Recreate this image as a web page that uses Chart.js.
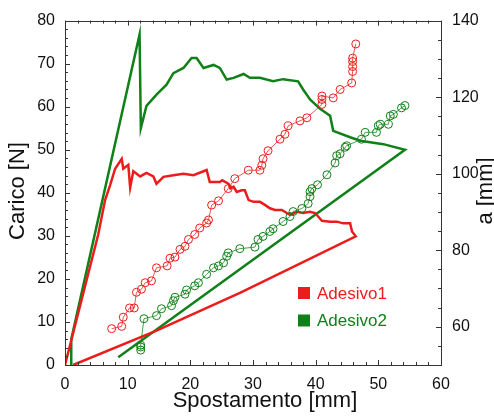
<!DOCTYPE html>
<html>
<head>
<meta charset="utf-8">
<script src="https://cdn.jsdelivr.net/npm/chart.js@4/dist/chart.umd.min.js"></script>
<style>
  html, body { margin: 0; padding: 0; background: #fff; }
  canvas { display: block; }
</style>
</head>
<body>
<canvas id="chart" width="494" height="416"></canvas>
<script>
// series names (legend)
const seriesNames = ['Adesivo1', 'Adesivo2'];

// axis labels
const xTitle = 'Spostamento [mm]';
const yTitle = 'Carico [N]';
const y2Title = 'a [mm]';

// tick labels
const xTicks = [0, 10, 20, 30, 40, 50, 60];
const yTicks = [0, 10, 20, 30, 40, 50, 60, 70, 80];
const aTicks = [60, 80, 100, 120, 140];

// Adesivo1 - carico [N] vs spostamento [mm]
const carico1X = [0, 5.3, 6.4, 7.2, 8.0, 9.05, 9.3, 10.1, 10.4, 10.9, 12.0, 13.0, 14.1, 14.6, 15.7, 17.3, 18.9, 20.5, 22.6,
  23.1, 24.7, 25.1, 26.1, 26.4, 26.9, 27.4, 28.2, 28.7, 29.3, 30.1, 31.1, 31.9, 32.7, 33.5, 34.6, 35.4, 35.9, 37.0,
  38.0, 39.1, 39.9, 40.4, 41.0, 42.3, 43.4, 44.4, 45.5, 45.8, 46.4, 37.0, 28.0, 14.6, 1.3];
const carico1Y = [0, 30.3, 38.3, 41.8, 45.6, 47.9, 45.6, 46.5, 41.2, 45.0, 43.8, 44.6, 43.8, 42.1, 43.7, 44.1, 44.4, 44.1, 45.3,
  42.5, 42.5, 42.9, 42.1, 41.0, 41.4, 40.2, 40.6, 40.6, 38.3, 37.9, 37.9, 37.2, 36.4, 36.0, 36.0, 35.3, 34.9, 35.6,
  35.3, 35.6, 35.3, 34.5, 33.5, 33.3, 33.3, 32.9, 32.9, 31.0, 29.9, 23.2, 16.8, 8.0, 0];

// Adesivo2 - carico [N] vs spostamento [mm]
const carico2X = [1.0, 1.0, 11.9, 12.1, 13.0, 14.6, 16.2, 17.3, 18.9, 20.2, 21.0, 22.1, 23.7, 24.7, 25.8, 26.9, 28.5, 29.5,
  31.1, 33.2, 34.8, 37.2, 38.0, 39.1, 40.7, 42.3, 42.8, 45.5, 47.1, 50.8, 54.25, 8.5];
const carico2Y = [0, 6.0, 76.8, 55.0, 60.2, 62.8, 65.1, 67.8, 69.0, 71.3, 71.3, 69.0, 69.7, 69.0, 66.3, 66.7, 67.6, 66.7,
  66.7, 65.9, 66.4, 65.9, 64.0, 61.7, 59.5, 57.9, 54.4, 52.9, 52.1, 51.3, 50.0, 1.8];

// Adesivo1 - lunghezza cricca a [mm]
const crack1X = [7.45, 9.05, 9.3, 10.3, 11.05, 11.4, 12.2, 12.8, 13.8, 14.6, 16.3, 16.75, 17.55, 18.35, 19.15, 19.7, 20.7,
  21.5, 22.6, 22.9, 23.4, 24.5, 26.05, 27.1, 29.25, 31.1, 31.4, 31.6, 32.4, 34.3, 35.1, 35.6, 37.5, 38.6, 41.0, 41.0,
  41.0, 42.8, 43.9, 45.75, 45.9, 45.9, 45.9, 45.9, 46.4];
const crack1A = [59.5, 60.1, 62.5, 64.9, 64.9, 69.0, 69.8, 71.5, 72.0, 75.4, 75.9, 77.9, 78.2, 80.2, 81.0, 82.8, 84.1,
  85.8, 87.1, 87.9, 91.8, 92.9, 96.1, 98.7, 100.9, 100.9, 102.2, 103.9, 106.0, 109.0, 110.3, 112.5, 113.8, 114.6, 118.1, 119.4,
  120.3, 119.8, 122.0, 123.7, 126.7, 128.0, 129.3, 130.2, 133.9];

// Adesivo2 - lunghezza cricca a [mm]
const crack2X = [12.08, 12.08, 12.08, 12.6, 14.6, 15.4, 17.0, 17.3, 17.55, 19.15, 19.4, 20.7, 21.3, 22.6, 23.7, 24.5, 25.3,
  25.8, 26.05, 27.9, 30.3, 30.8, 31.6, 32.7, 33.2, 34.8, 35.9, 36.4, 37.8, 38.8, 39.1, 39.1, 39.4, 40.3, 41.8, 43.1,
  43.35, 43.9, 44.7, 44.95, 47.3, 47.9, 49.7, 50.0, 50.3, 51.6, 51.9, 52.4, 53.7, 54.25];
const crack2A = [53.9, 54.7, 55.2, 62.1, 62.9, 64.7, 65.5, 66.8, 67.7, 68.5, 69.6, 70.7, 71.5, 73.7, 75.4, 75.9, 76.7,
  78.4, 79.3, 80.4, 80.8, 82.8, 83.6, 84.9, 85.6, 87.5, 88.8, 90.1, 90.9, 92.2, 94.0, 95.3, 96.1, 97.1, 99.7, 102.8,
  104.7, 105.2, 106.9, 107.3, 109.0, 110.8, 110.8, 112.5, 112.9, 112.9, 115.1, 115.5, 117.2, 117.8];

const RED = 'rgb(236,28,28)';
const GREEN = 'rgb(16,128,24)';
const FONT = '"Liberation Sans", Arial, sans-serif';

const pts = (xs, ys) => xs.map((x, i) => ({ x: x, y: ys[i] }));

// frame, inward ticks, axis titles and legend
const decor = {
  id: 'decor',
  afterDraw(chart) {
    const ctx = chart.ctx;
    const a = chart.chartArea;
    const sx = chart.scales.x, sy = chart.scales.y, sa = chart.scales.y2;
    ctx.save();
    ctx.strokeStyle = '#333';
    ctx.lineWidth = 1;
    ctx.strokeRect(Math.round(a.left) + 0.5, Math.round(a.top) + 0.5,
      Math.round(a.right - a.left), Math.round(a.bottom - a.top));
    ctx.beginPath();
    for (let v = 0; v <= 60; v += 2) {
      const len = v % 10 === 0 ? 5 : 3;
      const px = Math.round(sx.getPixelForValue(v)) + 0.5;
      ctx.moveTo(px, a.bottom); ctx.lineTo(px, a.bottom - len);
      ctx.moveTo(px, a.top); ctx.lineTo(px, a.top + len);
    }
    for (let v = 0; v <= 80; v += 2) {
      const len = v % 10 === 0 ? 5 : 3;
      const py = Math.round(sy.getPixelForValue(v)) + 0.5;
      ctx.moveTo(a.left, py); ctx.lineTo(a.left + len, py);
    }
    for (let v = 50; v <= 140; v += 5) {
      const len = v % 20 === 0 ? 5 : 3;
      const py = Math.round(sa.getPixelForValue(v)) + 0.5;
      ctx.moveTo(a.right, py); ctx.lineTo(a.right - len, py);
    }
    ctx.stroke();

    // axis titles
    ctx.fillStyle = '#111';
    ctx.font = '22px ' + FONT;
    ctx.textAlign = 'center';
    ctx.textBaseline = 'middle';
    ctx.fillText(xTitle, 265, 401);
    ctx.save();
    ctx.translate(18, 191);
    ctx.rotate(-Math.PI / 2);
    ctx.fillText(yTitle, 0, 0);
    ctx.restore();
    ctx.save();
    ctx.translate(486, 191);
    ctx.rotate(-Math.PI / 2);
    ctx.fillText(y2Title, 0, 0);
    ctx.restore();

    // legend
    const cols = [RED, GREEN];
    ctx.font = '17px ' + FONT;
    ctx.textAlign = 'left';
    seriesNames.forEach((name, i) => {
      const cy = 293 + i * 27.5;
      ctx.fillStyle = cols[i];
      ctx.fillRect(298, cy - 6, 12, 12);
      ctx.fillText(name, 317, cy + 1);
    });
    ctx.restore();
  }
};

new Chart(document.getElementById('chart'), {
  type: 'scatter',
  data: {
    datasets: [
      {
        label: seriesNames[0] + ' a',
        data: pts(crack1X, crack1A),
        yAxisID: 'y2',
        showLine: true,
        borderColor: 'rgba(236,28,28,0.75)',
        borderWidth: 1,
        pointRadius: 4,
        pointBorderWidth: 1,
        pointBorderColor: RED,
        pointBackgroundColor: 'rgba(0,0,0,0)'
      },
      {
        label: seriesNames[1] + ' a',
        data: pts(crack2X, crack2A),
        yAxisID: 'y2',
        showLine: true,
        borderColor: 'rgba(16,128,24,0.75)',
        borderWidth: 1,
        pointRadius: 4,
        pointBorderWidth: 1,
        pointBorderColor: GREEN,
        pointBackgroundColor: 'rgba(0,0,0,0)'
      },
      {
        label: seriesNames[0],
        data: pts(carico1X, carico1Y),
        yAxisID: 'y',
        showLine: true,
        borderColor: RED,
        borderWidth: 2.5,
        pointRadius: 0,
        tension: 0
      },
      {
        label: seriesNames[1],
        data: pts(carico2X, carico2Y),
        yAxisID: 'y',
        showLine: true,
        borderColor: GREEN,
        borderWidth: 2.5,
        pointRadius: 0,
        tension: 0
      }
    ]
  },
  options: {
    responsive: false,
    animation: false,
    devicePixelRatio: 1,
    layout: { padding: { top: 17, left: 0, right: 0, bottom: 0 } },
    plugins: {
      legend: { display: false },
      tooltip: { enabled: false }
    },
    scales: {
      x: {
        type: 'linear',
        min: 0, max: 60,
        afterBuildTicks: s => { s.ticks = xTicks.map(v => ({ value: v })); },
        afterFit: s => { s.height = 51; },
        grid: { display: false, drawTicks: false },
        border: { display: false },
        ticks: { color: '#111', font: { family: FONT, size: 16 }, padding: 10, maxRotation: 0 }
      },
      y: {
        type: 'linear',
        position: 'left',
        min: 0, max: 80,
        afterBuildTicks: s => { s.ticks = yTicks.map(v => ({ value: v })); },
        afterFit: s => { s.width = 65; },
        grid: { display: false, drawTicks: false },
        border: { display: false },
        ticks: { color: '#111', font: { family: FONT, size: 16 }, padding: 10 }
      },
      y2: {
        type: 'linear',
        position: 'right',
        min: 50, max: 140,
        afterBuildTicks: s => { s.ticks = aTicks.map(v => ({ value: v })); },
        afterFit: s => { s.width = 53; },
        grid: { display: false, drawTicks: false },
        border: { display: false },
        ticks: { color: '#111', font: { family: FONT, size: 16 }, padding: 11 }
      }
    }
  },
  plugins: [decor]
});
</script>
</body>
</html>
